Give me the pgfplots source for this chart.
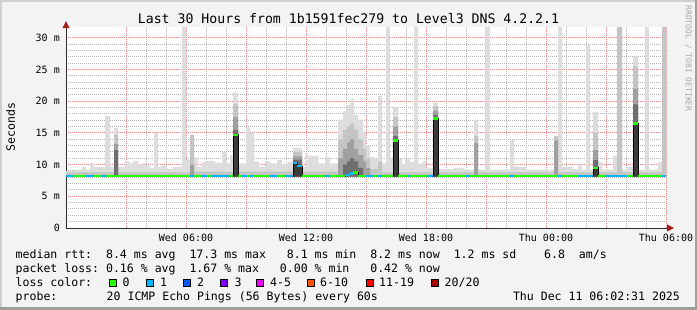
\documentclass[border=0pt]{standalone}
\usepackage{fontspec}
\setmainfont{DejaVu Sans Mono}
\usepackage{pgfplots}
\pgfplotsset{compat=1.18}
\usetikzlibrary{arrows.meta}
\definecolor{bgc}{HTML}{F3F3F3}
\definecolor{shadeA}{HTML}{CFCFCF}
\definecolor{shadeB}{HTML}{9E9E9E}
\definecolor{axisc}{HTML}{2C2C2C}
\definecolor{arrowc}{HTML}{A81E1E}
\definecolor{gminor}{HTML}{B4B4B4}
\definecolor{gmajor}{HTML}{EE7F7F}
\definecolor{wmc}{HTML}{A8A8A8}
\definecolor{s1}{HTML}{DDDDDD}
\definecolor{s2}{HTML}{C4C4C4}
\definecolor{s3}{HTML}{A0A0A0}
\definecolor{s4}{HTML}{6E6E6E}
\definecolor{s5}{HTML}{3C3C3C}
\definecolor{c0}{HTML}{26FF00}
\definecolor{c1}{HTML}{00B8FF}
\definecolor{c2}{HTML}{0059FF}
\definecolor{c3}{HTML}{7E00FF}
\definecolor{c4}{HTML}{EE00FF}
\definecolor{c6}{HTML}{FF5500}
\definecolor{c11}{HTML}{FF0000}
\definecolor{c20}{HTML}{A10000}
\newcommand{\lf}{\fontsize{11.55bp}{13bp}\selectfont}
\newcommand{\sw}[1]{{\setlength{\fboxsep}{0pt}\setlength{\fboxrule}{1bp}\fcolorbox{black}{#1}{\rule{0pt}{6.2bp}\rule{6bp}{0pt}}}}
\begin{document}
\begin{tikzpicture}
\useasboundingbox (0,0) rectangle (697bp,310bp);
\fill[bgc] (0,0) rectangle (697bp,310bp);
\fill[shadeA] (0,308bp) rectangle (697bp,310bp);
\fill[shadeA] (0,0) rectangle (2bp,310bp);
\fill[shadeB] (0,0) rectangle (697bp,3bp);
\fill[shadeB] (695bp,0) rectangle (697bp,310bp);
\begin{axis}[
  at={(66bp,82bp)}, anchor=south west,
  scale only axis, width=600bp, height=200.8bp,
  xmin=0, xmax=30, ymin=0, ymax=31.7,
  axis lines=left,
  axis line style={draw=axisc, line width=1bp},
  x axis line style={-{Triangle[length=7bp,width=7bp,color=arrowc]}, shorten >=-8bp},
  y axis line style={-{Triangle[length=7bp,width=7bp,color=arrowc]}, shorten >=-6bp},
  axis background/.style={fill=white},
  xtick={3,6,...,30},
  xticklabels={,Wed 06:00,,Wed 12:00,,Wed 18:00,,Thu 00:00,,Thu 06:00},
  minor x tick num=2,
  ytick={0,5,...,30},
  yticklabels={0,5 m,10 m,15 m,20 m,25 m,30 m},
  minor y tick num=4,
  grid=both,
  major grid style={gmajor, dash pattern=on 1bp off 1bp, line width=1bp},
  minor grid style={gminor, dash pattern=on 1bp off 1bp, line width=1bp},
  major tick length=0pt, minor tick length=0pt,
  tick label style={font=\fontsize{10bp}{12bp}\selectfont, inner sep=0pt},
  yticklabel style={xshift=-6bp},
  xticklabel style={yshift=-6bp},
]
% smoke layers: step tops, closed back along the 8.1 ms base
\addplot[const plot, fill=s1, draw=none] coordinates {
(0,9.0) (0.45,9.2) (0.8,9.7) (1.0,9.2) (1.2,10.3) (1.35,9.6) (1.95,17.7) (2.2,9.7) (2.4,15.8) (2.6,9.7)
(2.95,10.5) (3.2,10.2) (3.35,10.6) (3.6,10.0) (3.8,10.3) (4.0,9.9) (4.2,9.5) (4.4,15.0) (4.6,9.7) (4.8,9.9)
(5.05,9.3) (5.35,9.6) (5.8,31.8) (6.0,10.7) (6.2,14.7) (6.4,11.1) (6.6,9.6) (6.8,10.4) (7.05,10.6) (7.45,10.3)
(7.8,12.0) (8.0,10.2) (8.2,11.5) (8.35,21.4) (8.6,10.2) (9.0,15.9) (9.2,15.0) (9.4,10.5) (9.65,9.7) (9.95,10.5)
(10.2,10.2) (10.55,10.7) (10.8,10.1) (11.1,10.4) (11.35,12.7) (11.8,9.7) (11.95,11.4) (12.6,10.2) (12.95,11.2) (13.2,10.2)
(13.6,17.1) (13.85,18.4) (14.05,19.4) (14.2,20.3) (14.4,17.8) (14.6,17.1) (14.85,15.2) (15.0,13.0) (15.2,11.2) (15.4,10.9)
(15.6,20.9) (15.8,10.2) (16.0,31.8) (16.2,10.9) (16.35,19.1) (16.6,10.9) (16.8,10.1) (16.95,10.9) (17.2,10.4) (17.4,31.8)
(17.6,10.2) (17.85,10.6) (18.0,9.4) (18.35,19.8) (18.6,9.3) (19.4,9.5) (19.9,9.2) (20.4,17.0) (20.6,9.2) (20.95,31.8)
(21.2,9.2) (22.2,13.9) (22.4,9.7) (23.0,9.2) (24.4,14.5) (24.6,31.8) (24.8,9.7) (25.35,9.3) (25.6,10.0) (25.8,9.2)
(26.0,28.9) (26.2,9.2) (26.35,18.3) (26.6,10.4) (26.8,9.2) (27.35,11.4) (27.55,31.8) (27.8,9.2) (28.05,9.7) (28.35,27.1)
(28.6,9.1) (28.95,31.8) (29.15,9.2) (29.6,10.4) (29.8,31.8) (30,31.8) (30,8.1) (0,8.1)} -- cycle;
\addplot[const plot, fill=s2, draw=none] coordinates {
(0,8.8) (2.4,14.7) (2.6,8.8) (6.2,14.7) (6.4,8.9) (8.35,19.5) (8.6,8.9) (11.35,12.0) (11.8,8.9)
(13.6,14.0) (13.85,15.5) (14.05,16.0) (14.2,16.5) (14.4,15.5) (14.6,14.0) (14.85,12.5) (15.0,11.0) (15.2,9.3)
(15.6,10.5) (15.8,8.8) (16.35,17.5) (16.6,8.8) (18.35,19.2) (18.6,8.8) (20.4,14.5) (20.6,8.8) (24.4,14.5)
(24.6,8.8) (26.35,15.0) (26.6,8.8) (27.55,31.8) (27.8,8.8) (28.35,25.5) (28.6,8.8) (29.8,31.8) (30,31.8) (30,8.1) (0,8.1)} -- cycle;
\addplot[const plot, fill=s3, draw=none] coordinates {
(0,8.1) (2.4,13.3) (2.6,8.1) (6.2,10.0) (6.4,8.1) (8.35,17.5) (8.6,8.1) (11.35,11.3) (11.8,8.1)
(13.6,11.0) (13.85,12.5) (14.05,13.5) (14.2,14.0) (14.4,12.5) (14.6,11.5) (14.85,10.5) (15.0,9.5) (15.2,8.1)
(16.35,16.0) (16.6,8.1) (18.35,18.5) (18.6,8.1) (20.4,13.4) (20.6,8.1) (24.4,13.8) (24.6,8.1)
(26.35,12.3) (26.6,8.1) (28.35,22.0) (28.6,8.1) (30,8.1) (0,8.1)} -- cycle;
\addplot[const plot, fill=s4, draw=none] coordinates {
(0,8.1) (2.4,12.3) (2.6,8.1) (8.35,15.5) (8.6,8.1) (11.35,10.8) (11.8,8.1) (13.85,10.0) (14.05,10.5)
(14.2,11.0) (14.4,10.5) (14.6,9.5) (14.85,8.1) (16.35,14.5) (16.6,8.1) (18.35,17.8) (18.6,8.1)
(26.35,10.7) (26.6,8.1) (28.35,19.5) (28.6,8.1) (30,8.1) (0,8.1)} -- cycle;
\addplot[const plot, fill=s5, draw=none] coordinates {
(0,8.1) (8.35,14.7) (8.6,8.1) (11.35,10.3) (11.55,9.8) (11.8,8.1) (16.35,13.8) (16.6,8.1)
(18.35,17.3) (18.6,8.1) (26.35,9.5) (26.6,8.1) (28.35,16.5) (28.6,8.1) (30,8.1) (0,8.1)} -- cycle;
% median rtt
\addplot[const plot, black, line width=0.8bp] coordinates {
(0,8.2) (8.35,14.7) (8.6,8.2) (11.35,10.3) (11.55,9.8) (11.8,8.2) (13.95,8.4) (14.2,8.6) (14.35,8.8)
(14.6,8.2) (16.35,13.8) (16.6,8.2) (18.35,17.3) (18.6,8.2) (26.35,9.5) (26.6,8.2) (28.35,16.5) (28.6,8.2) (30,8.2)};
\addplot[c0, line width=2.5bp, line cap=butt, unbounded coords=jump] coordinates {
(0.4,8.2)(1.0,8.2)(1.0,nan)
(1.4,8.2)(1.8,8.2)(1.8,nan)
(2.0,8.2)(6.2,8.2)(6.2,nan)
(6.4,8.2)(6.8,8.2)(6.8,nan)
(7.05,8.2)(7.25,8.2)(7.25,nan)
(8.2,8.2)(8.35,8.2)(8.35,nan)
(8.35,14.7)(8.6,14.7)(8.6,nan)
(8.6,8.2)(8.8,8.2)(8.8,nan)
(9.05,8.2)(9.2,8.2)(9.2,nan)
(9.35,8.2)(10.2,8.2)(10.2,nan)
(10.55,8.2)(10.95,8.2)(10.95,nan)
(11.8,8.2)(12.95,8.2)(12.95,nan)
(13.2,8.2)(13.95,8.2)(13.95,nan)
(14.35,8.8)(14.6,8.8)(14.6,nan)
(14.6,8.2)(15.0,8.2)(15.0,nan)
(15.35,8.2)(15.55,8.2)(15.55,nan)
(15.8,8.2)(16.35,8.2)(16.35,nan)
(16.35,13.8)(16.6,13.8)(16.6,nan)
(16.6,8.2)(17.05,8.2)(17.05,nan)
(17.2,8.2)(18.05,8.2)(18.05,nan)
(18.35,17.3)(18.6,17.3)(18.6,nan)
(18.6,8.2)(20.0,8.2)(20.0,nan)
(20.2,8.2)(22.2,8.2)(22.2,nan)
(22.4,8.2)(24.6,8.2)(24.6,nan)
(24.8,8.2)(25.6,8.2)(25.6,nan)
(26.35,9.5)(26.6,9.5)(26.6,nan)
(26.6,8.2)(26.95,8.2)(26.95,nan)
(28.05,8.2)(28.35,8.2)(28.35,nan)
(28.35,16.5)(28.6,16.5)(28.6,nan)
(28.6,8.2)(29.8,8.2)};
\addplot[c1, line width=2.5bp, line cap=butt, unbounded coords=jump] coordinates {
(0,8.2)(0.4,8.2)(0.4,nan)
(1.0,8.2)(1.4,8.2)(1.4,nan)
(1.8,8.2)(2.0,8.2)(2.0,nan)
(6.2,8.2)(6.4,8.2)(6.4,nan)
(6.8,8.2)(7.05,8.2)(7.05,nan)
(7.25,8.2)(8.2,8.2)(8.2,nan)
(8.8,8.2)(9.05,8.2)(9.05,nan)
(9.2,8.2)(9.35,8.2)(9.35,nan)
(10.2,8.2)(10.55,8.2)(10.55,nan)
(10.95,8.2)(11.35,8.2)(11.35,nan)
(11.35,10.3)(11.55,10.3)(11.55,nan)
(11.55,9.8)(11.8,9.8)(11.8,nan)
(12.95,8.2)(13.2,8.2)(13.2,nan)
(13.95,8.4)(14.2,8.4)(14.2,nan)
(14.2,8.6)(14.35,8.6)(14.35,nan)
(15.0,8.2)(15.35,8.2)(15.35,nan)
(15.55,8.2)(15.8,8.2)(15.8,nan)
(17.05,8.2)(17.2,8.2)(17.2,nan)
(18.05,8.2)(18.35,8.2)(18.35,nan)
(20.0,8.2)(20.2,8.2)(20.2,nan)
(22.2,8.2)(22.4,8.2)(22.4,nan)
(24.6,8.2)(24.8,8.2)(24.8,nan)
(25.6,8.2)(26.35,8.2)(26.35,nan)
(26.95,8.2)(28.05,8.2)(28.05,nan)
(29.8,8.2)(30,8.2)};
\end{axis}
\node[anchor=base, inner sep=0, font=\fontsize{13.2bp}{15bp}\selectfont] at (348.5bp,286bp) {Last 30 Hours from 1b1591fec279 to Level3 DNS 4.2.2.1};
\node[rotate=90, inner sep=0, font=\fontsize{11.5bp}{13bp}\selectfont] at (10.5bp,183bp) {Seconds};
\node[rotate=-90, inner sep=0, text=wmc, font=\fontsize{8bp}{9bp}\selectfont] at (688.5bp,251.5bp) {RRDTOOL / TOBI OETIKER};
\node[anchor=base west, inner sep=0, font=\lf] at (15.5bp,51.5bp) {median rtt:~~8.4 ms avg~~17.3 ms max~~~8.1 ms min~~8.2 ms now~~1.2 ms sd~~~~6.8~~am/s};
\node[anchor=base west, inner sep=0, font=\lf] at (15.5bp,37.7bp) {packet loss:~0.16 \% avg~~1.67 \% max~~~0.00 \% min~~~0.42 \% now};
\node[anchor=base west, inner sep=0, font=\lf] at (15.5bp,23.8bp) {loss color:};
\node[anchor=base west, inner sep=0] at (108.3bp,23.8bp) {\sw{c0}};
\node[anchor=base west, inner sep=0, font=\lf] at (122.5bp,23.8bp) {0};
\node[anchor=base west, inner sep=0] at (145.7bp,23.8bp) {\sw{c1}};
\node[anchor=base west, inner sep=0, font=\lf] at (160bp,23.8bp) {1};
\node[anchor=base west, inner sep=0] at (182.7bp,23.8bp) {\sw{c2}};
\node[anchor=base west, inner sep=0, font=\lf] at (197bp,23.8bp) {2};
\node[anchor=base west, inner sep=0] at (219.3bp,23.8bp) {\sw{c3}};
\node[anchor=base west, inner sep=0, font=\lf] at (234.3bp,23.8bp) {3};
\node[anchor=base west, inner sep=0] at (256bp,23.8bp) {\sw{c4}};
\node[anchor=base west, inner sep=0, font=\lf] at (270bp,23.8bp) {4-5};
\node[anchor=base west, inner sep=0] at (306.7bp,23.8bp) {\sw{c6}};
\node[anchor=base west, inner sep=0, font=\lf] at (320bp,23.8bp) {6-10};
\node[anchor=base west, inner sep=0] at (366bp,23.8bp) {\sw{c11}};
\node[anchor=base west, inner sep=0, font=\lf] at (379bp,23.8bp) {11-19};
\node[anchor=base west, inner sep=0] at (431bp,23.8bp) {\sw{c20}};
\node[anchor=base west, inner sep=0, font=\lf] at (444.5bp,23.8bp) {20/20};
\node[anchor=base west, inner sep=0, font=\lf] at (15.5bp,10bp) {probe:};
\node[anchor=base west, inner sep=0, font=\lf] at (106.5bp,10bp) {20 ICMP Echo Pings (56 Bytes) every 60s};
\node[anchor=base west, inner sep=0, font=\lf] at (512.8bp,10bp) {Thu Dec 11 06:02:31 2025};
\end{tikzpicture}
\end{document}
